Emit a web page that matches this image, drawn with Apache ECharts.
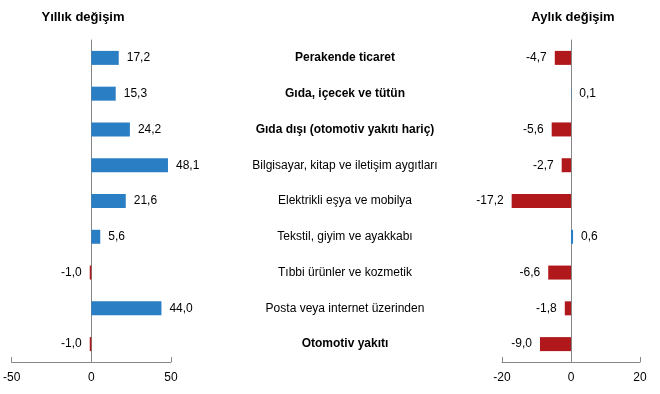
<!DOCTYPE html>
<html><head><meta charset="utf-8">
<script src="https://cdn.jsdelivr.net/npm/echarts@6/dist/echarts.min.js"></script>
<style>html,body{margin:0;padding:0;background:#fff}#c{width:660px;height:394px}</style>
</head><body><div id="c"></div>
<script>
const categories = ["Perakende ticaret","Gıda, içecek ve tütün","Gıda dışı (otomotiv yakıtı hariç)","Bilgisayar, kitap ve iletişim aygıtları","Elektrikli eşya ve mobilya","Tekstil, giyim ve ayakkabı","Tıbbi ürünler ve kozmetik","Posta veya internet üzerinden","Otomotiv yakıtı"];
const boldCats = ["Perakende ticaret","Gıda, içecek ve tütün","Gıda dışı (otomotiv yakıtı hariç)","Otomotiv yakıtı"];
const yearly = [17.2, 15.3, 24.2, 48.1, 21.6, 5.6, -1.0, 44.0, -1.0];
const monthly = [-4.7, 0.1, -5.6, -2.7, -17.2, 0.6, -6.6, -1.8, -9.0];
const titles = ["Yıllık değişim", "Aylık değişim"];

const BLUE = '#2A7EC4', RED = '#B0181B';
const FONT = 'Liberation Sans, Arial, sans-serif';
function items(arr){
  return arr.map(v => ({
    value: v,
    itemStyle: {color: v < 0 ? RED : BLUE},
    label: {position: v < 0 ? 'left' : 'right'}
  }));
}
const axisCommon = {
  axisLine: {show: true, onZero: false, lineStyle: {color: '#868686', width: 1}},
  axisTick: {show: true, inside: true, length: 5, lineStyle: {color: '#868686'}},
  axisLabel: {color: '#000', fontSize: 12, fontFamily: FONT, margin: 10},
  splitLine: {show: false}
};
const yCommon = {
  type: 'category', data: categories, inverse: true,
  axisLine: {show: true, onZero: true, lineStyle: {color: '#868686'}},
  axisTick: {show: false}, axisLabel: {show: false}
};
const labelCommon = {
  show: true, distance: 8, color: '#000', fontSize: 12, fontFamily: FONT,
  formatter: p => p.value.toFixed(1).replace('.', ',')
};
const chart = echarts.init(document.getElementById('c'));
chart.setOption({
  animation: false,
  backgroundColor: '#fff',
  title: [
    {text: titles[0], left: 78, top: 6, textAlign: 'center', textStyle: {fontSize: 13, fontWeight: 'bold', fontFamily: FONT, color: '#000'}},
    {text: titles[1], left: 568, top: 6, textAlign: 'center', textStyle: {fontSize: 13, fontWeight: 'bold', fontFamily: FONT, color: '#000'}}
  ],
  grid: [
    {left: 11, width: 160, top: 40, height: 322},
    {left: 502, width: 138, top: 40, height: 322},
    {left: 345, width: 1, top: 40, height: 322}
  ],
  xAxis: [
    Object.assign({type: 'value', gridIndex: 0, min: -50, max: 50, interval: 50}, axisCommon),
    Object.assign({type: 'value', gridIndex: 1, min: -20, max: 20, interval: 20}, axisCommon),
    {type: 'value', gridIndex: 2, show: false, min: 0, max: 1}
  ],
  yAxis: [
    Object.assign({gridIndex: 0}, yCommon),
    Object.assign({gridIndex: 1}, yCommon),
    {type: 'category', gridIndex: 2, data: categories, inverse: true,
     axisLine: {show: false}, axisTick: {show: false}, splitLine: {show: false},
     axisLabel: {show: true, margin: 0, align: 'center', color: '#000', fontSize: 12, fontFamily: FONT,
       formatter: v => boldCats.includes(v) ? '{b|' + v + '}' : v,
       rich: {b: {fontWeight: 'bold', fontSize: 12, fontFamily: FONT, color: '#000'}}}}
  ],
  series: [
    {type: 'bar', xAxisIndex: 0, yAxisIndex: 0, data: items(yearly), barWidth: 14, label: labelCommon},
    {type: 'bar', xAxisIndex: 1, yAxisIndex: 1, data: items(monthly), barWidth: 14, label: labelCommon}
  ]
});
</script></body></html>
